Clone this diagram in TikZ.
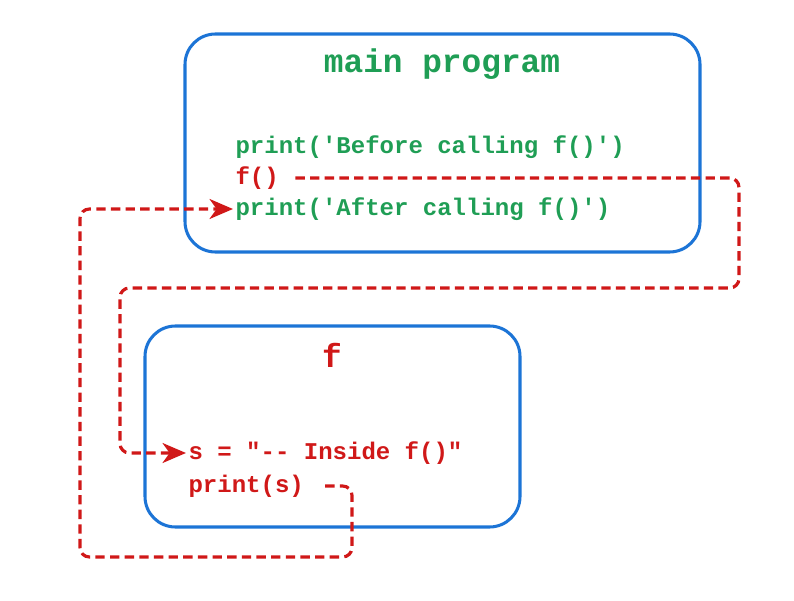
\documentclass[tikz,border=0pt]{standalone}
\usepackage{fontspec}
\setmonofont{Liberation Mono}
\usetikzlibrary{arrows.meta,positioning}
\definecolor{frame}{HTML}{1C74D6}
\definecolor{codegreen}{HTML}{1F9E55}
\definecolor{callred}{HTML}{D01818}

\begin{document}
\begin{tikzpicture}[
    x=0.03cm, y=-0.03cm,
    scopebox/.style={draw=frame,line width=2.6pt,rounded corners=26pt},
    title/.style={font=\fontsize{28}{32}\selectfont\ttfamily\bfseries},
    code/.style={anchor=west,inner sep=2pt,font=\fontsize{20.5}{24}\selectfont\ttfamily\bfseries},
    flow/.style={draw=callred,line width=2.7pt,dash pattern=on 8pt off 4.5pt,rounded corners=8pt,
      -{Stealth[length=20pt,width=17pt,inset=6pt,fill=callred]}}
  ]
    \useasboundingbox (0,0) rectangle (794,601);
    % main program
    \draw[scopebox] (185,34) rectangle (700,252);
    \node[title,text=codegreen] (maintitle) at (442,64) {main program};
    \node[code,text=codegreen] (before) at (233,147) {print('Before calling f()')};
    \node[code,text=callred] (fcall) at (233,178) {f()};
    \node[code,text=codegreen] (after) at (233,209) {print('After calling f()')};
    % function f
    \draw[scopebox] (145,326) rectangle (520,527);
    \node[title,text=callred] (ftitle) at (332,355) {f};
    \node[code,text=callred] (inside) at (186,453) {s = "-- Inside f()"};
    \node[code,text=callred] (prints) at (186,486) {print(s)};
    % call and return
    \coordinate (r1) at (739,288);
    \coordinate (l1) at (120,288);
    \coordinate (b1) at (352,557);
    \coordinate (b2) at (80,557);
    \draw[flow,shorten <=12pt] (fcall.east) -| (r1) -- (l1) |- (inside.west);
    \draw[flow,shorten <=16pt] (prints.east) -| (b1) -- (b2) |- (after.west);
\end{tikzpicture}
\end{document}
